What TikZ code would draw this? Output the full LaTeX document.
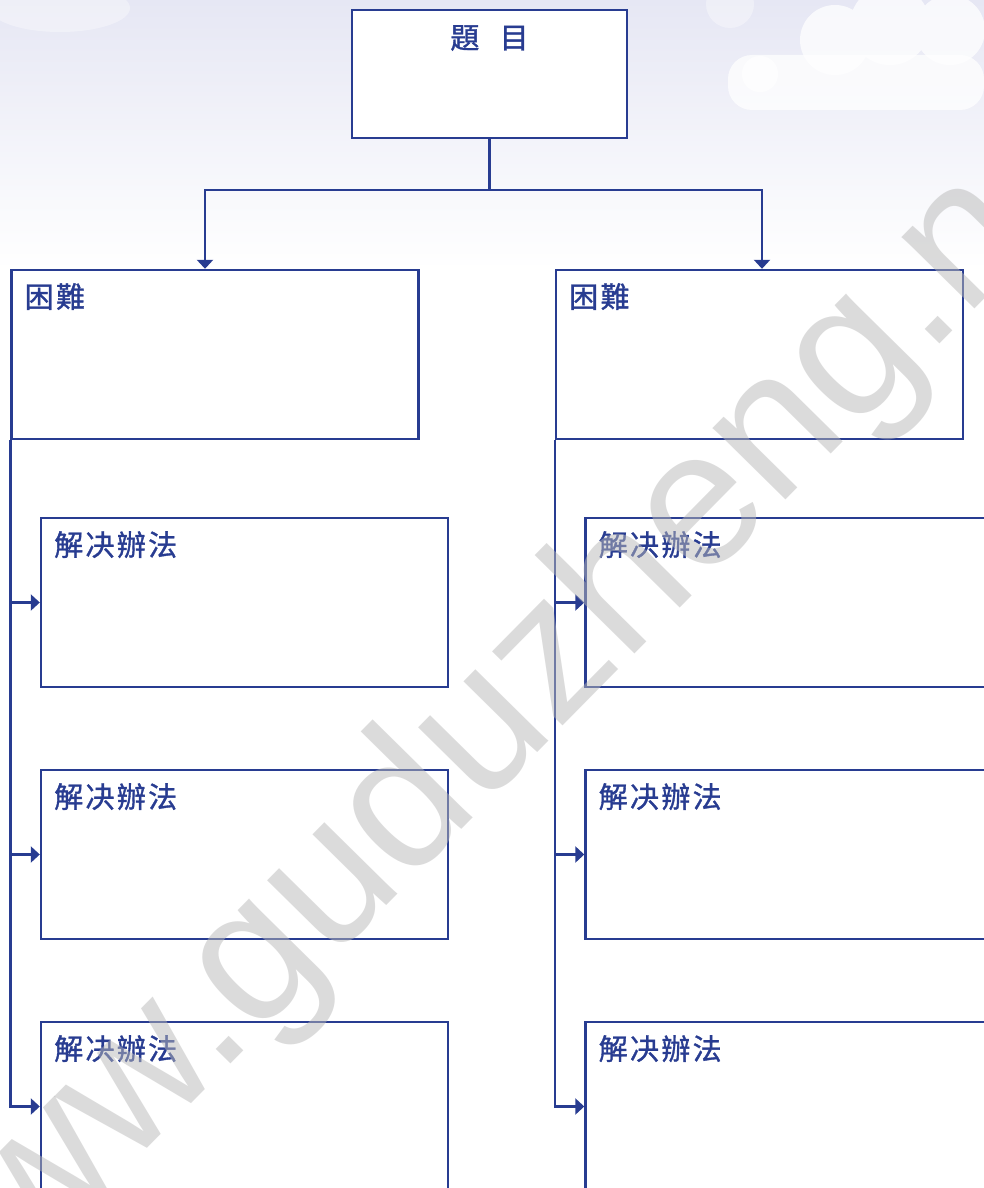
\documentclass[tikz,border=0pt]{standalone}
\usepackage{fontspec}
\newfontfamily\cjk[LetterSpace=8, FakeBold=1.2]{Noto Sans CJK TC}
\newfontfamily\wmfont{Liberation Sans}
\usetikzlibrary{positioning, arrows.meta}
\definecolor{chartblue}{RGB}{40,60,145}
\definecolor{skytop}{RGB}{230,231,244}
\newcommand{\boxfont}{\cjk\fontsize{14.5pt}{16pt}\selectfont}

\begin{document}
\begin{tikzpicture}[
    >={Triangle[length=4.5pt,width=8pt]},
    on grid,
    box/.style={
        rectangle,
        draw=chartblue,
        fill=white,
        line width=1.2pt,
        minimum width=203.5pt,
        minimum height=84.5pt,
        inner sep=0pt
    },
    tag/.style={
        label={[anchor=north west, inner sep=0pt, xshift=7pt, yshift=-7pt,
                text=chartblue, font=\boxfont]north west:#1}
    },
    link/.style={
        draw=chartblue,
        line width=1.2pt
    }
]

    % === Sky ===
    \useasboundingbox (0,0) rectangle (492pt,-594pt);
    \shade[top color=skytop, bottom color=white] (0,0) rectangle (492pt,-135pt);
    \fill[white, opacity=0.35]
        (30pt,-4pt) ellipse (35pt and 12pt)
        (365pt,-2pt) circle (12pt);
    \fill[white, opacity=0.75]
        (380pt,-37pt) circle (9pt)
        (417.5pt,-20pt) circle (17.5pt)
        (445pt,-12.5pt) circle (20pt)
        (475pt,-15pt) circle (17.5pt);
    \fill[white, opacity=0.75, rounded corners=12pt] (364pt,-27.5pt) rectangle (492pt,-55pt);

    % === Boxes ===
    \node[box, minimum width=137.5pt, minimum height=64pt,
          label={[anchor=north, inner sep=0pt, yshift=-8pt,
                  text=chartblue, font=\boxfont]north:題\hspace{0.7em}目}]
          (title) at (244.75pt,-37pt) {};
    \node[box, tag=困難, below left=140.25pt and 137.25pt of title] (dl) {};
    \node[box, tag=困難, right=272.25pt of dl] (dr) {};

    \node[box, tag=解决辦法, below right=124pt and 14.75pt of dl] (sl1) {};
    \node[box, tag=解决辦法, below=126pt of sl1] (sl2) {};
    \node[box, tag=解决辦法, below=126pt of sl2] (sl3) {};
    \node[box, tag=解决辦法, below right=124pt and 14.75pt of dr] (sr1) {};
    \node[box, tag=解决辦法, below=126pt of sr1] (sr2) {};
    \node[box, tag=解决辦法, below=126pt of sr2] (sr3) {};

    % === Connectors ===
    \draw[link] (title.south) -- ++(0,-25.5pt) coordinate (fork);
    \draw[link, ->] (fork) -| ([xshift=-5pt]dl.north);
    \draw[link, ->] (fork) -| ([xshift=1.25pt]dr.north);
    \foreach \s in {sl1,sl2,sl3}
        \draw[link, ->] (dl.south west) |- (\s.west);
    \foreach \s in {sr1,sr2,sr3}
        \draw[link, ->] (dr.south west) |- (\s.west);

    % === Watermark ===
    \node[rotate=45.4, anchor=base, inner sep=0pt, text=black!28, text opacity=0.5,
          font=\wmfont\fontsize{96.7pt}{100pt}\selectfont]
          (mark) at (271.5pt,-373.5pt) {www.guduzheng.net};

\end{tikzpicture}
\end{document}
